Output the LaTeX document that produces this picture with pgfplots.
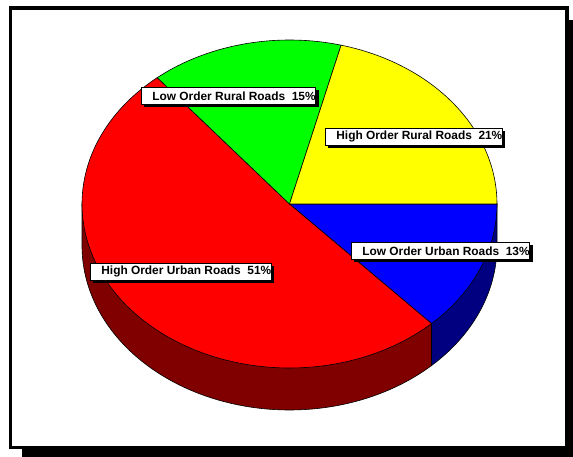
\documentclass[border=0pt]{standalone}
\usepackage{pgfplots}
\pgfplotsset{compat=1.18}
\usepackage{fontspec}
\setmainfont{Liberation Sans}
\usetikzlibrary{shadows}
\definecolor{pRed}{RGB}{255,0,0}
\definecolor{pDarkRed}{RGB}{128,0,0}
\definecolor{pBlue}{RGB}{0,0,255}
\definecolor{pDarkBlue}{RGB}{0,0,128}
\definecolor{pGreen}{RGB}{0,255,0}
\definecolor{pYellow}{RGB}{255,255,0}
\begin{document}
\begin{tikzpicture}
\useasboundingbox (0,0) rectangle (573pt,457pt);
% data (percent), clockwise from 3 o'clock
\def\vULow{13}
\def\vUHigh{51}
\def\vRLow{15}
\def\vRHigh{21}
% geometry (pixels)
\def\cx{289.5}
\def\cy{204}
\def\rx{207.5}
\def\ry{164}
\def\dd{42}
\pgfmathsetmacro\aA{-3.6*\vULow}
\pgfmathsetmacro\aB{\aA-3.6*\vUHigh}
\pgfmathsetmacro\aC{\aB-3.6*\vRLow}
\pgfmathsetmacro\aD{\aC-3.6*\vRHigh}
\pgfmathsetmacro\pAx{\cx+\rx*cos(\aA)}
\pgfmathsetmacro\pAy{\cy-\ry*sin(\aA)}
\pgfmathsetmacro\Lx{\cx-\rx}
\pgfmathsetmacro\Rx{\cx+\rx}
\begin{axis}[at={(0pt,0pt)}, anchor=south west, scale only axis,
  width=573pt, height=457pt, xmin=0, xmax=573, ymin=0, ymax=457,
  y dir=reverse, hide axis, clip=false]
% frame with shadow
\fill[black] (axis cs:22,20) rectangle (axis cs:573,457);
\draw[black, line width=3.5pt, fill=white] (axis cs:10.5,8) rectangle (axis cs:567,447.5);
% side walls
\addplot[fill=pDarkRed, draw=black, line width=0.6pt, domain=-180:\aA, samples=100]
  ({\cx+\rx*cos(x)},{\cy+\dd-\ry*sin(x)}) -- (axis cs:\pAx,\pAy) -- (axis cs:\cx,\cy) -- (axis cs:\Lx,\cy) -- cycle;
\addplot[fill=pDarkBlue, draw=black, line width=0.6pt, domain=\aA:0, samples=40]
  ({\cx+\rx*cos(x)},{\cy+\dd-\ry*sin(x)}) -- (axis cs:\Rx,\cy) -- (axis cs:\cx,\cy) -- (axis cs:\pAx,\pAy) -- cycle;
% top face wedges
\addplot[fill=pBlue, draw=black, line width=0.6pt, domain=\aA:0, samples=40]
  ({\cx+\rx*cos(x)},{\cy-\ry*sin(x)}) -- (axis cs:\cx,\cy) -- cycle;
\addplot[fill=pRed, draw=black, line width=0.6pt, domain=\aB:\aA, samples=120]
  ({\cx+\rx*cos(x)},{\cy-\ry*sin(x)}) -- (axis cs:\cx,\cy) -- cycle;
\addplot[fill=pGreen, draw=black, line width=0.6pt, domain=\aC:\aB, samples=40]
  ({\cx+\rx*cos(x)},{\cy-\ry*sin(x)}) -- (axis cs:\cx,\cy) -- cycle;
\addplot[fill=pYellow, draw=black, line width=0.6pt, domain=\aD:\aC, samples=60]
  ({\cx+\rx*cos(x)},{\cy-\ry*sin(x)}) -- (axis cs:\cx,\cy) -- cycle;
% labels
\tikzset{lbl/.style={draw=black, fill=white, line width=0.7pt, inner sep=0pt,
  minimum height=17pt, anchor=north west,
  drop shadow={shadow xshift=3pt, shadow yshift=-3pt, fill=black, opacity=1},
  font=\bfseries\fontsize{11.9}{12}\selectfont}}
\node[lbl] at (axis cs:141,87) {\hspace{11pt}Low Order Rural Roads\ \ 15\%\hspace{3pt}};
\node[lbl] at (axis cs:325,128) {\hspace{11pt}High Order Rural Roads\ \ 21\%\hspace{3pt}};
\node[lbl] at (axis cs:351,242) {\hspace{11pt}Low Order Urban Roads\ \ 13\%\hspace{3pt}};
\node[lbl] at (axis cs:90,263) {\hspace{11pt}High Order Urban Roads\ \ 51\%\hspace{3pt}};
\end{axis}
\end{tikzpicture}
\end{document}
